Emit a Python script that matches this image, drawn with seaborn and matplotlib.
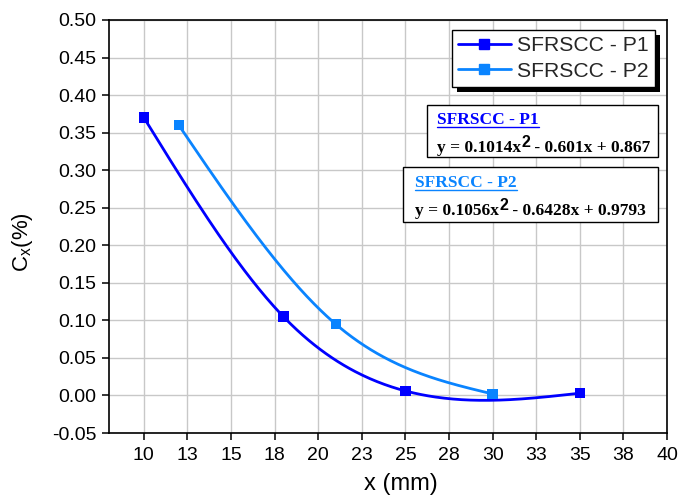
import numpy as np
import pandas as pd
import matplotlib
matplotlib.use("Agg")
import matplotlib.pyplot as plt
import seaborn as sns
from matplotlib.lines import Line2D
from matplotlib.patches import Rectangle
from matplotlib.transforms import IdentityTransform

# ---------------- data ----------------
series_names = ["SFRSCC - P1", "SFRSCC - P2"]
x_p1 = [10, 18, 25, 35]
y_p1 = [0.370, 0.105, 0.006, 0.003]
x_p2 = [12, 21, 30]
y_p2 = [0.360, 0.095, 0.002]
# fitted-equation text, split around the superscript "2"
eq_parts = [("y = 0.1014x", "2", " - 0.601x + 0.867"),
            ("y = 0.1056x", "2", " - 0.6428x + 0.9793")]
xticks = [10, 12.5, 15, 17.5, 20, 22.5, 25, 27.5, 30, 32.5, 35, 37.5, 40]
xtick_labels = ["10", "13", "15", "18", "20", "23", "25", "28", "30", "33", "35", "38", "40"]
yticks = [-0.05, 0.00, 0.05, 0.10, 0.15, 0.20, 0.25, 0.30, 0.35, 0.40, 0.45, 0.50]
colors = ["#0000ff", "#0a84ff"]


def natural_spline(x, y, n=300):
    x = np.asarray(x, float)
    y = np.asarray(y, float)
    k = len(x)
    h = np.diff(x)
    A = np.zeros((k, k))
    b = np.zeros(k)
    A[0, 0] = 1
    A[-1, -1] = 1
    for i in range(1, k - 1):
        A[i, i - 1] = h[i - 1]
        A[i, i] = 2 * (h[i - 1] + h[i])
        A[i, i + 1] = h[i]
        b[i] = 6 * ((y[i + 1] - y[i]) / h[i] - (y[i] - y[i - 1]) / h[i - 1])
    M = np.linalg.solve(A, b)
    xs = np.linspace(x[0], x[-1], n)
    idx = np.clip(np.searchsorted(x, xs) - 1, 0, k - 2)
    x0, x1 = x[idx], x[idx + 1]
    hh = x1 - x0
    t0, t1 = x1 - xs, xs - x0
    ys = (M[idx] * t0 ** 3 / (6 * hh) + M[idx + 1] * t1 ** 3 / (6 * hh)
          + (y[idx] / hh - M[idx] * hh / 6) * t0
          + (y[idx + 1] / hh - M[idx + 1] * hh / 6) * t1)
    return xs, ys


pts = pd.concat([
    pd.DataFrame({"x": x_p1, "y": y_p1, "series": series_names[0]}),
    pd.DataFrame({"x": x_p2, "y": y_p2, "series": series_names[1]}),
])
curves = []
for name, xx, yy in [(series_names[0], x_p1, y_p1), (series_names[1], x_p2, y_p2)]:
    cx, cy = natural_spline(xx, yy)
    curves.append(pd.DataFrame({"x": cx, "y": cy, "series": name}))
curves = pd.concat(curves)

# ---------------- style ----------------
sns.set_theme(style="white")
plt.rcParams["font.family"] = ["Liberation Sans", "DejaVu Sans"]

W, H = 680, 501
fig = plt.figure(figsize=(W / 100, H / 100), dpi=100)
L, R, T, B = 109, 667, 20, 433
ax = fig.add_axes([L / W, 1 - B / H, (R - L) / W, (B - T) / H])

palette = dict(zip(series_names, colors))
sns.lineplot(data=curves, x="x", y="y", hue="series", palette=palette,
             estimator=None, sort=False, linewidth=2.0, legend=False, ax=ax, zorder=3)
sns.scatterplot(data=pts, x="x", y="y", hue="series", palette=palette,
                marker="s", s=55, linewidth=0, legend=False, ax=ax, zorder=4)

ax.set_xlim(8, 40)
ax.set_ylim(-0.05, 0.5)
ax.set_xticks(xticks)
ax.set_xticklabels(xtick_labels)
ax.set_yticks(yticks)
ax.set_yticklabels([f"{v:.2f}" for v in yticks])
ax.grid(True, color="#c8c8c8", linewidth=1.0)
ax.set_axisbelow(True)
for s in ax.spines.values():
    s.set_color("black")
    s.set_linewidth(1.2)
ax.tick_params(axis="both", direction="out", length=5, width=1.1, color="black",
               labelsize=14, labelcolor="black", bottom=True, left=True)
ax.tick_params(axis="x", pad=5)
ax.tick_params(axis="y", pad=4)
ax.set_xlabel("x (mm)", fontsize=17, color="black")
ax.set_ylabel("C$_{\\mathregular{x}}$(%)", fontsize=16, color="black")


def px2ax(px, py):
    return ((px - L) / (R - L), (B - py) / (B - T))


ax.xaxis.set_label_coords(*px2ax(401, 473))
ax.yaxis.set_label_coords(*px2ax(35, 242))

# legend
handles = [Line2D([], [], color=c, lw=2, marker="s", ms=7) for c in colors]
lx, ly = px2ax(655, 30)
leg = ax.legend(handles, series_names, loc="upper right", bbox_to_anchor=(lx, ly),
                borderaxespad=0, fontsize=15.2, frameon=True, fancybox=False,
                framealpha=1, edgecolor="black", handlelength=2.5,
                labelspacing=0.3, borderpad=0.3, handletextpad=0.3)
leg.get_frame().set_linewidth(1.0)
leg.set_zorder(6)

# equation boxes
boxes = [((427, 105), (658, 157), (437, 120), (437, 152)),
         ((403, 167), (658, 222), (415, 183), (415, 215))]
title_texts = []
eq_first = []
for (p0, p1, tpos, epos), name, col, parts in zip(boxes, series_names, colors, eq_parts):
    a0 = px2ax(p0[0], p1[1])
    a1 = px2ax(p1[0], p0[1])
    ax.add_patch(Rectangle(a0, a1[0] - a0[0], a1[1] - a0[1], transform=ax.transAxes,
                           facecolor="white", edgecolor="black", linewidth=1.0, zorder=6))
    t = ax.text(*px2ax(*tpos), name, transform=ax.transAxes, fontsize=12.5,
                fontweight="bold", family="Liberation Serif", color=col,
                va="center", ha="left", zorder=7)
    title_texts.append((t, col))
    t1 = ax.text(*px2ax(*epos), parts[0], transform=ax.transAxes, fontsize=12.5,
                 fontweight="bold", family="Liberation Serif", color="black",
                 va="baseline", ha="left", zorder=7)
    eq_first.append((t1, epos, parts))

fig.canvas.draw()
r = fig.canvas.get_renderer()
# superscript and rest of each equation, placed after the first piece
for t1, epos, parts in eq_first:
    e = t1.get_window_extent(r)
    bx, by = ax.transAxes.transform(px2ax(*epos))
    t2 = ax.text(e.x1 + 0.5, by + 5, parts[1], transform=IdentityTransform(),
                 fontsize=11.5, fontweight="bold", family="Liberation Sans",
                 color="black", va="baseline", ha="left", zorder=7)
    fig.canvas.draw()
    e2 = t2.get_window_extent(r)
    ax.text(e2.x1, by, parts[2], transform=IdentityTransform(), fontsize=12.5,
            fontweight="bold", family="Liberation Serif", color="black",
            va="baseline", ha="left", zorder=7)

# legend shadow
bb = leg.get_window_extent(r)
ax.add_patch(Rectangle((bb.x0 + 5, bb.y0 - 5), bb.width, bb.height,
                       transform=IdentityTransform(), facecolor="black",
                       edgecolor="none", zorder=5.5, clip_on=False))
# underline titles
for t, col in title_texts:
    e = t.get_window_extent(r)
    ax.add_line(Line2D([e.x0, e.x1], [e.y0 + 1, e.y0 + 1], transform=IdentityTransform(),
                       color=col, linewidth=1.0, zorder=7, clip_on=False))

fig.savefig("out.png", dpi=100)
